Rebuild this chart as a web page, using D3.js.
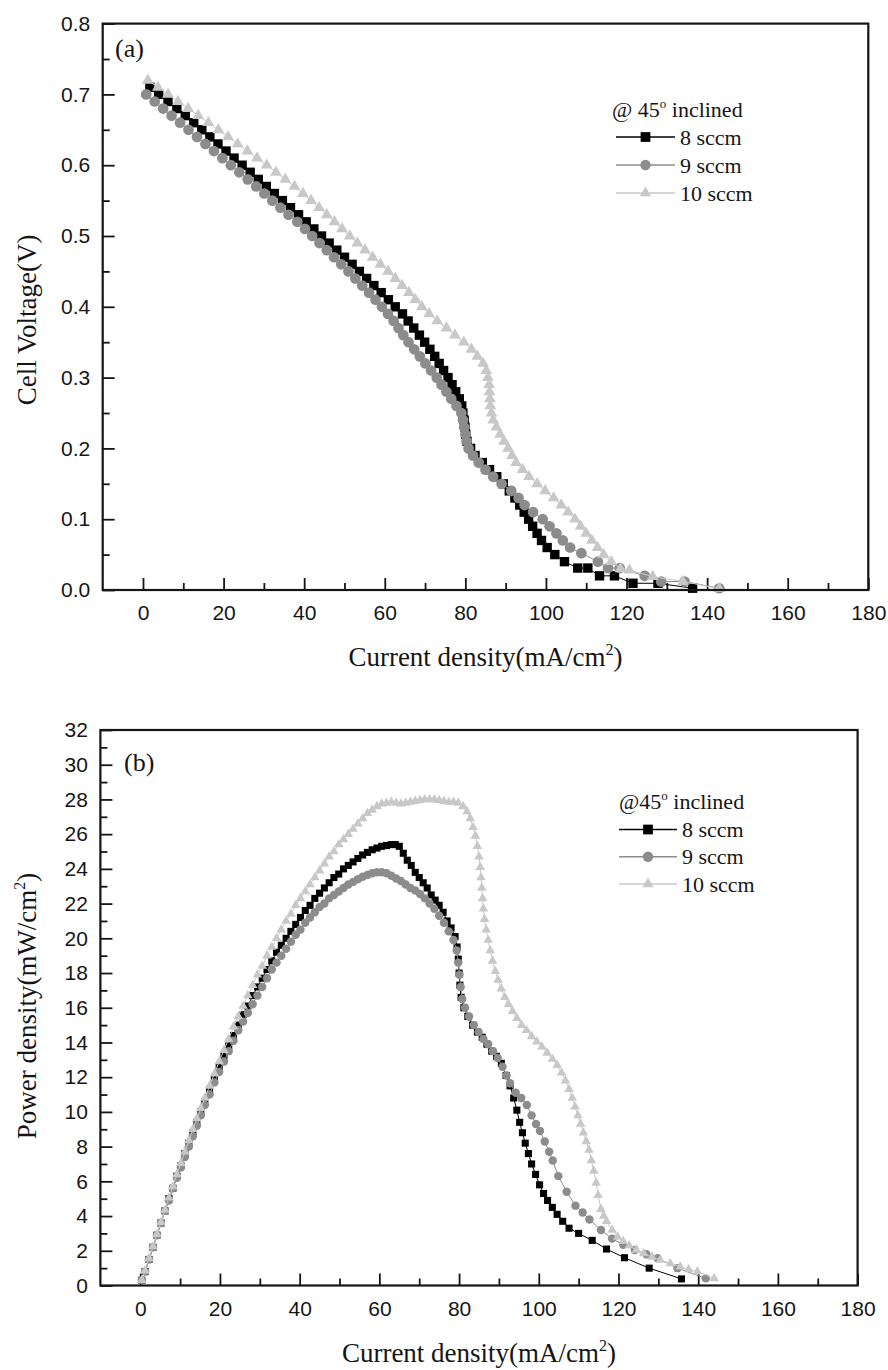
<!DOCTYPE html>
<html><head><meta charset="utf-8">
<script src="https://cdn.jsdelivr.net/npm/d3@7"></script>
<style>body{margin:0;background:#fff}svg{display:block}</style>
</head><body>
<svg id="c" width="888" height="1370"></svg>
<script>
// ---------- DATA ----------
const seriesNames = ["8 sccm", "9 sccm", "10 sccm"];
const xTicks = [0, 20, 40, 60, 80, 100, 120, 140, 160, 180];
const xMinorTicks = [10, 30, 50, 70, 90, 110, 130, 150, 170];
const vTicks = [0.0, 0.1, 0.2, 0.3, 0.4, 0.5, 0.6, 0.7, 0.8];
const vMinorTicks = [0.05, 0.15, 0.25, 0.35, 0.45, 0.55, 0.65, 0.75];
const pTicks = [0,2,4,6,8,10,12,14,16,18,20,22,24,26,28,30,32];
const pMinorTicks = [1,3,5,7,9,11,13,15,17,19,21,23,25,27,29,31];

// (a) polarization: [current density, cell voltage]
const volt8 = [[1.7,.71],[3.9,.70],[6.2,.69],[8.4,.68],[10.5,.67],[12.6,.66],[14.6,.65],[16.6,.64],[18.6,.63],[20.6,.62],[22.6,.61],[24.6,.60],[26.6,.59],[28.6,.58],[30.6,.57],[32.6,.56],[34.6,.55],[36.6,.54],[38.6,.53],[40.5,.52],[42.4,.51],[44.3,.50],[46.2,.49],[48.1,.48],[50.0,.47],[51.9,.46],[53.7,.45],[55.5,.44],[57.3,.43],[59.1,.42],[60.9,.41],[62.6,.40],[64.4,.39],[65.8,.38],[67.2,.37],[68.6,.36],[69.9,.35],[71.2,.34],[72.4,.33],[73.5,.32],[74.6,.31],[75.7,.30],[76.7,.29],[77.6,.28],[78.5,.27],[79.1,.26],[79.4,.25],[79.7,.24],[79.9,.23],[80.1,.22],[80.4,.21],[81.3,.20],[82.4,.19],[84.2,.18],[86.0,.17],[87.8,.16],[89.4,.15],[90.9,.14],[92.3,.13],[93.5,.12],[94.6,.11],[95.7,.10],[96.7,.09],[97.8,.08],[98.9,.07],[100.3,.06],[102.2,.05],[104.6,.04],[107.9,.031],[110.4,.031],[113.3,.02],[117.0,.02],[121.6,.0095],[127.8,.0095],[136.4,.0025]];
const volt9 = [[0.8,.70],[2.9,.69],[5.0,.68],[7.1,.67],[9.2,.66],[11.3,.65],[13.4,.64],[15.5,.63],[17.6,.62],[19.7,.61],[21.8,.60],[23.9,.59],[26.0,.58],[28.1,.57],[30.1,.56],[32.1,.55],[34.1,.54],[36.1,.53],[38.3,.52],[40.2,.51],[42.0,.50],[43.8,.49],[45.6,.48],[47.4,.47],[49.2,.46],[51.0,.45],[52.7,.44],[54.4,.43],[56.1,.42],[57.7,.41],[59.3,.40],[60.8,.39],[62.2,.38],[63.4,.37],[64.6,.36],[65.9,.35],[67.3,.34],[68.7,.33],[70.1,.32],[71.5,.31],[72.9,.30],[74.1,.29],[75.3,.28],[76.5,.27],[77.8,.26],[79.0,.25],[79.4,.24],[79.7,.23],[80.0,.22],[80.3,.21],[80.8,.20],[81.9,.19],[83.3,.18],[85.0,.17],[86.9,.16],[89.0,.15],[91.4,.14],[93.2,.13],[94.7,.12],[96.8,.11],[99.2,.10],[100.9,.09],[102.6,.08],[104.2,.07],[106.0,.06],[108.8,.052],[112.9,.04],[115.4,.031],[118.3,.031],[124.5,.02],[128.6,.012],[134.4,.012],[143.0,.0025]];
const volt10 = [[1.2,.72],[3.7,.71],[6.2,.70],[8.7,.69],[11.2,.68],[13.7,.67],[16.2,.66],[18.7,.65],[21.1,.64],[23.5,.63],[25.9,.62],[28.3,.61],[30.7,.60],[33.0,.59],[35.3,.58],[37.6,.57],[39.7,.56],[41.7,.55],[43.7,.54],[45.6,.53],[47.5,.52],[49.4,.51],[51.3,.50],[53.2,.49],[55.1,.48],[57.0,.47],[58.9,.46],[60.8,.45],[62.6,.44],[64.3,.43],[66.0,.42],[67.6,.41],[69.2,.40],[71.0,.39],[73.0,.38],[75.3,.37],[77.4,.36],[79.6,.35],[81.5,.34],[83.0,.33],[84.4,.32],[85.2,.31],[85.6,.30],[85.9,.29],[86.0,.28],[86.1,.27],[86.2,.26],[86.5,.25],[86.9,.24],[87.7,.23],[88.6,.22],[89.6,.21],[90.6,.20],[91.6,.19],[92.6,.18],[94.2,.17],[95.8,.16],[97.8,.15],[99.8,.14],[101.9,.13],[103.8,.12],[105.5,.11],[107.2,.10],[108.6,.09],[110.0,.08],[111.4,.07],[112.8,.06],[114.3,.05],[116.2,.04],[118.5,.03],[120.7,.028],[126.5,.019],[134.0,.012],[143.0,.002]];

// (b) power density: [current density, power density]
const power8 = [[0.4,0.3],[1.2,0.8],[2.2,1.5],[3.2,2.2],[4.2,2.9],[5.2,3.6],[6.2,4.3],[7.2,5.0],[8.2,5.6],[9.2,6.3],[10.2,6.9],[11.2,7.6],[12.2,8.2],[13.2,8.8],[14.2,9.4],[15.2,10.0],[16.2,10.6],[17.4,11.3],[18.6,11.9],[19.8,12.6],[21.0,13.2],[22.2,13.8],[23.4,14.4],[24.6,15.0],[25.8,15.6],[27.0,16.1],[28.2,16.7],[29.4,17.2],[30.6,17.7],[31.8,18.2],[33.0,18.7],[34.2,19.2],[35.4,19.6],[36.6,20.0],[37.8,20.4],[39.0,20.8],[40.2,21.2],[41.4,21.6],[42.6,21.9],[43.8,22.3],[45.0,22.6],[46.2,22.9],[47.4,23.2],[48.6,23.5],[49.8,23.7],[51.0,24.0],[52.2,24.2],[53.4,24.4],[54.6,24.6],[55.8,24.8],[57.0,24.95],[58.2,25.1],[59.4,25.2],[60.6,25.3],[61.8,25.35],[63.0,25.4],[64.0,25.4],[65.0,25.3],[66.0,24.9],[67.0,24.5],[68.0,24.2],[69.0,23.8],[70.0,23.5],[71.0,23.2],[72.0,22.9],[73.0,22.5],[74.0,22.2],[75.0,21.9],[76.0,21.5],[77.0,21.0],[78.0,20.6],[79.0,20.1],[79.5,19.5],[79.8,18.8],[80.0,18.0],[80.2,17.3],[80.5,16.6],[81.2,16.0],[82.2,15.5],[83.4,15.0],[84.6,14.6],[85.8,14.3],[87.0,13.9],[88.2,13.5],[89.4,13.2],[90.6,12.8],[91.8,12.1],[92.8,11.5],[93.7,10.8],[94.5,10.1],[95.2,9.4],[95.9,8.8],[96.6,8.2],[97.4,7.6],[98.2,7.0],[99.2,6.4],[100.2,5.8],[101.2,5.3],[102.2,4.9],[103.4,4.5],[104.6,4.1],[106.0,3.7],[107.6,3.3],[110.0,3.0],[113.4,2.6],[117.0,2.1],[121.5,1.6],[127.7,1.0],[135.8,0.38]];
const power9 = [[0.4,0.3],[1.2,0.8],[2.2,1.5],[3.2,2.2],[4.2,2.9],[5.2,3.6],[6.2,4.3],[7.2,4.9],[8.2,5.6],[9.2,6.2],[10.2,6.8],[11.2,7.4],[12.2,8.0],[13.2,8.6],[14.2,9.2],[15.2,9.8],[16.2,10.4],[17.4,11.0],[18.6,11.7],[19.8,12.3],[21.0,12.9],[22.2,13.5],[23.4,14.1],[24.6,14.7],[25.8,15.2],[27.0,15.7],[28.2,16.2],[29.4,16.7],[30.6,17.2],[31.8,17.7],[33.0,18.2],[34.2,18.6],[35.4,19.0],[36.6,19.4],[37.8,19.8],[39.0,20.2],[40.2,20.5],[41.4,20.9],[42.6,21.2],[43.8,21.5],[45.0,21.8],[46.2,22.0],[47.4,22.3],[48.6,22.5],[49.8,22.7],[51.0,22.9],[52.2,23.1],[53.4,23.25],[54.6,23.4],[55.8,23.55],[57.0,23.65],[58.2,23.75],[59.4,23.8],[60.6,23.8],[61.8,23.75],[63.0,23.6],[64.2,23.45],[65.4,23.3],[66.6,23.1],[67.8,22.9],[69.0,22.75],[70.2,22.55],[71.4,22.3],[72.6,22.0],[73.8,21.7],[75.0,21.3],[76.2,20.9],[77.4,20.4],[78.6,19.9],[79.4,19.3],[79.8,18.6],[80.1,17.9],[80.4,17.2],[80.8,16.5],[81.5,16.0],[82.5,15.5],[83.7,15.0],[84.9,14.6],[86.1,14.2],[87.3,13.9],[88.5,13.5],[89.7,13.1],[90.9,12.6],[91.9,12.1],[92.8,11.65],[94.2,11.1],[95.6,10.8],[97.0,10.4],[98.2,9.8],[99.3,9.3],[100.3,8.9],[101.5,8.3],[102.6,7.7],[103.5,7.2],[104.9,6.3],[107.0,5.4],[109.2,4.6],[111.0,4.2],[112.7,3.8],[115.6,3.2],[118.4,2.7],[121.2,2.35],[124.1,2.05],[127.0,1.8],[129.8,1.57],[134.8,1.0],[141.9,0.41]];
const power10 = [[0.4,0.3],[1.2,0.85],[2.2,1.55],[3.2,2.25],[4.2,2.95],[5.2,3.65],[6.2,4.35],[7.2,5.05],[8.2,5.7],[9.2,6.4],[10.2,7.05],[11.2,7.7],[12.2,8.35],[13.2,9.0],[14.2,9.6],[15.2,10.2],[16.2,10.8],[17.4,11.5],[18.6,12.2],[19.8,12.9],[21.0,13.55],[22.2,14.2],[23.4,14.9],[24.6,15.5],[25.8,16.1],[27.0,16.7],[28.2,17.3],[29.4,17.9],[30.6,18.4],[31.8,19.0],[33.0,19.5],[34.2,20.0],[35.4,20.5],[36.6,21.0],[37.8,21.4],[39.0,21.9],[40.2,22.3],[41.4,22.7],[42.6,23.1],[43.8,23.5],[45.0,23.9],[46.2,24.3],[47.4,24.7],[48.6,25.0],[49.8,25.4],[51.0,25.7],[52.2,26.0],[53.4,26.3],[54.6,26.6],[55.8,26.9],[57.0,27.2],[58.2,27.4],[59.4,27.6],[60.6,27.75],[61.8,27.8],[63.0,27.85],[64.2,27.8],[65.4,27.75],[66.6,27.8],[67.8,27.85],[69.0,27.9],[70.2,27.95],[71.4,28.0],[72.6,28.0],[73.8,28.0],[75.0,27.95],[76.2,27.9],[77.4,27.85],[78.6,27.85],[79.8,27.8],[81.0,27.6],[82.0,27.3],[82.8,26.9],[83.5,26.4],[84.1,25.9],[84.6,25.3],[85.0,24.7],[85.3,24.1],[85.5,23.5],[85.7,22.9],[85.9,22.3],[86.1,21.7],[86.4,21.1],[86.8,20.5],[87.3,19.9],[87.8,19.3],[88.4,18.7],[89.1,18.1],[89.8,17.6],[90.6,17.1],[91.5,16.6],[92.4,16.2],[93.4,15.8],[94.5,15.4],[95.7,15.0],[96.9,14.7],[98.2,14.35],[99.5,14.05],[100.8,13.75],[102.1,13.4],[103.4,13.05],[104.6,12.7],[105.7,12.25],[106.7,11.8],[107.6,11.3],[108.4,10.8],[109.1,10.3],[109.8,9.8],[110.5,9.3],[111.2,8.8],[111.9,8.3],[112.6,7.8],[113.2,7.2],[113.8,6.6],[114.4,5.9],[114.9,5.2],[115.6,4.4],[116.3,4.0],[117.0,3.7],[118.4,3.2],[119.8,2.8],[121.2,2.55],[122.7,2.3],[124.5,2.05],[126.3,1.85],[128.4,1.65],[130.5,1.47],[133.0,1.27],[135.5,1.08],[137.6,0.93],[139.8,0.8],[144.0,0.41]];

// ---------- STYLE ----------
const SANS = "'Liberation Sans', Arial, sans-serif";
const SERIF = "'Liberation Serif', 'Times New Roman', serif";
const INK = "#151515";
const colors = ["#000000", "#8c8c8c", "#c8c8c8"];
const symbols = [d3.symbolSquare, d3.symbolCircle, d3.symbolTriangle];

const svg = d3.select("#c");

function panel(cfg) {
  const x = d3.scaleLinear().domain([-10, 180]).range(cfg.xr);
  const y = d3.scaleLinear().domain(cfg.yd).range(cfg.yr);
  const g = svg.append("g");

  const bx = g.append("g").attr("transform", `translate(0,${cfg.yr[0]})`)
    .call(d3.axisBottom(x).tickValues(xTicks).tickSize(-12).tickPadding(15.5).tickFormat(d3.format("d")));
  const bxm = g.append("g").attr("transform", `translate(0,${cfg.yr[0]})`)
    .call(d3.axisBottom(x).tickValues(xMinorTicks).tickSize(-7).tickFormat(""));
  const ly = g.append("g").attr("transform", `translate(${cfg.xr[0]},0)`)
    .call(d3.axisLeft(y).tickValues(cfg.yt).tickSize(-12).tickPadding(12.5).tickFormat(cfg.fmt));
  const lym = g.append("g").attr("transform", `translate(${cfg.xr[0]},0)`)
    .call(d3.axisLeft(y).tickValues(cfg.ym).tickSize(-7).tickFormat(""));
  [bx, bxm, ly, lym].forEach(a => {
    a.select(".domain").remove();
    a.selectAll("line").attr("stroke", INK).attr("stroke-width", 1.8);
    a.selectAll("text").attr("font-family", SANS).attr("font-size", 21).attr("fill", INK);
  });

  cfg.data.forEach((d, i) => {
    g.append("path").datum(d)
      .attr("fill", "none").attr("stroke", colors[i]).attr("stroke-width", 1)
      .attr("d", d3.line().x(p => x(p[0])).y(p => y(p[1])));
    g.append("g").selectAll("path").data(d).join("path")
      .attr("transform", p => `translate(${x(p[0])},${y(p[1])})`)
      .attr("d", d3.symbol().type(symbols[i]).size(cfg.msize[i]))
      .attr("fill", colors[i]);
  });

  g.append("rect")
    .attr("x", cfg.xr[0]).attr("y", cfg.yr[1])
    .attr("width", cfg.xr[1] - cfg.xr[0]).attr("height", cfg.yr[0] - cfg.yr[1])
    .attr("fill", "none").attr("stroke", INK).attr("stroke-width", 2.2);

  g.append("text").attr("x", cfg.tag[1]).attr("y", cfg.tag[2])
    .attr("font-family", SERIF).attr("font-size", 26).attr("fill", INK).text(cfg.tag[0]);

  const xt = g.append("text").attr("x", (cfg.xr[0] + cfg.xr[1]) / 2).attr("y", cfg.xtY)
    .attr("text-anchor", "middle").attr("font-family", SERIF).attr("font-size", 27).attr("fill", INK);
  xt.append("tspan").text("Current density(mA/cm");
  xt.append("tspan").attr("font-size", 16).attr("dy", -11).text("2");
  xt.append("tspan").attr("dy", 11).text(")");

  const yt = g.append("text").attr("transform", `translate(36,${cfg.ytY}) rotate(-90)`)
    .attr("text-anchor", "middle").attr("font-family", SERIF).attr("font-size", 27).attr("fill", INK);
  yt.append("tspan").text(cfg.ytitle[0]);
  if (cfg.ytitle.length > 1) {
    yt.append("tspan").attr("font-size", 16).attr("dy", -11).text(cfg.ytitle[1]);
    yt.append("tspan").attr("dy", 11).text(cfg.ytitle[2]);
  }

  const L = cfg.leg;
  const h = g.append("text").attr("x", L.hx).attr("y", L.hy)
    .attr("font-family", SERIF).attr("font-size", 22).attr("fill", INK);
  h.append("tspan").text(L.head[0]);
  h.append("tspan").attr("font-size", 13).attr("dy", -9).text("o");
  h.append("tspan").attr("dy", 9).text(" inclined");
  seriesNames.forEach((nm, i) => {
    const yy = L.y0 + i * L.dy;
    g.append("line").attr("x1", L.x1).attr("x2", L.x2).attr("y1", yy).attr("y2", yy)
      .attr("stroke", colors[i]).attr("stroke-width", 1.5);
    g.append("path").attr("transform", `translate(${(L.x1 + L.x2) / 2},${yy})`)
      .attr("d", d3.symbol().type(symbols[i]).size([95, 85, 55][i])).attr("fill", colors[i]);
    g.append("text").attr("x", L.tx).attr("y", yy + 7.5)
      .attr("font-family", SERIF).attr("font-size", 22).attr("fill", INK).text(nm);
  });
}

panel({
  xr: [102.7, 868.3], yd: [0, 0.8], yr: [590, 23.6],
  yt: vTicks, ym: vMinorTicks, fmt: d3.format(".1f"),
  data: [volt8, volt9, volt10], msize: [88, 90, 60],
  tag: ["(a)", 115, 57], xtY: 666, ytY: 320,
  ytitle: ["Cell Voltage(V)"],
  leg: { head: ["@ 45"], hx: 612, hy: 117, x1: 616, x2: 675, tx: 680, y0: 137, dy: 28 }
});

panel({
  xr: [100.4, 857.6], yd: [0, 32], yr: [1285.5, 730],
  yt: pTicks, ym: pMinorTicks, fmt: d3.format("d"),
  data: [power8, power9, power10], msize: [50, 56, 40],
  tag: ["(b)", 124, 771], xtY: 1362, ytY: 1006,
  ytitle: ["Power density(mW/cm", "2", ")"],
  leg: { head: ["@45"], hx: 619, hy: 809, x1: 619, x2: 677, tx: 682, y0: 829.5, dy: 27.3 }
});
</script>
</body></html>
